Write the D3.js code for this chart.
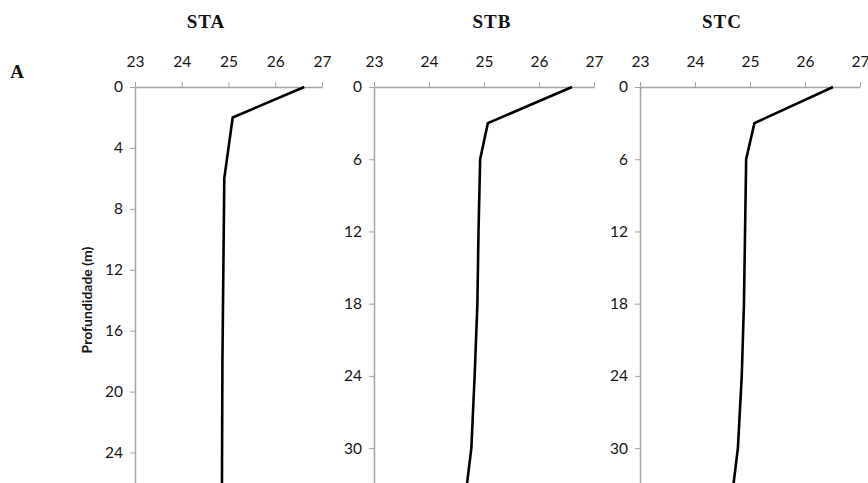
<!DOCTYPE html>
<html>
<head>
<meta charset="utf-8">
<script src="https://cdn.jsdelivr.net/npm/d3@7"></script>
<style>
  html, body { margin: 0; padding: 0; background: #fff; }
  svg { display: block; }
  .tick text { font-family: Lato, "Open Sans", sans-serif; font-size: 15.5px; fill: #151515; }
</style>
</head>
<body>
<svg id="chart" width="868" height="483"></svg>
<script>
// Temperature axis ticks (°C), shared by all stations
const tempTicks = [23, 24, 25, 26, 27];

// Station names
const stations = ["STA", "STB", "STC"];

// Depth ticks (m) per station
const staDepthTicks = [0, 4, 8, 12, 16, 20, 24];
const stbDepthTicks = [0, 6, 12, 18, 24, 30];
const stcDepthTicks = [0, 6, 12, 18, 24, 30];

// Temperature profiles: depth (m) and temperature (°C)
const staDepth = [0, 2, 6, 12, 18, 26];
const staTemp  = [26.62, 25.09, 24.91, 24.89, 24.87, 24.86];

const stbDepth = [0, 3, 6, 12, 18, 24, 30, 33];
const stbTemp  = [26.60, 25.07, 24.93, 24.90, 24.88, 24.83, 24.77, 24.69];

const stcDepth = [0, 3, 6, 12, 18, 24, 30, 33];
const stcTemp  = [26.51, 25.08, 24.93, 24.91, 24.89, 24.85, 24.78, 24.70];

const panels = [
  { name: stations[0], depth: staDepth, temp: staTemp, ticks: staDepthTicks, x0: 135, x1: 322, dMax: 26, titleX: 206 },
  { name: stations[1], depth: stbDepth, temp: stbTemp, ticks: stbDepthTicks, x0: 374, x1: 594, dMax: 32.9, titleX: 492 },
  { name: stations[2], depth: stcDepth, temp: stcTemp, ticks: stcDepthTicks, x0: 640, x1: 860, dMax: 32.9, titleX: 722 }
];

const svg = d3.select("#chart");
const plotTop = 87, plotBottom = 483;
const axisColor = "#a3a3a3";

panels.forEach((p) => {
  const x = d3.scaleLinear().domain([23, 27]).range([p.x0, p.x1]);
  const y = d3.scaleLinear().domain([0, p.dMax]).range([plotTop, plotBottom]);

  const g = svg.append("g");

  // Station title
  g.append("text")
    .attr("x", p.titleX).attr("y", 28)
    .attr("text-anchor", "middle")
    .attr("font-family", "'Liberation Serif', 'Times New Roman', serif")
    .attr("font-weight", "bold")
    .attr("font-size", 19)
    .attr("letter-spacing", 1)
    .attr("fill", "#111")
    .text(p.name);

  // Temperature axis on top
  const xa = g.append("g")
    .attr("transform", `translate(0,${plotTop})`)
    .call(d3.axisTop(x).tickValues(tempTicks).tickSizeInner(5).tickSizeOuter(0).tickPadding(15).tickFormat(d3.format("d")));
  xa.select(".domain").attr("stroke", axisColor).attr("stroke-width", 1.5);
  xa.selectAll(".tick line").attr("stroke", axisColor);

  // Depth axis on the left
  const ya = g.append("g")
    .attr("transform", `translate(${p.x0},0)`)
    .call(d3.axisLeft(y).tickValues(p.ticks).tickSizeInner(5).tickSizeOuter(0).tickPadding(7).tickFormat(d3.format("d")));
  ya.select(".domain").attr("stroke", axisColor).attr("stroke-width", 1.5);
  ya.selectAll(".tick line").attr("stroke", axisColor);

  // Profile line
  const pts = p.depth.map((d, k) => [p.temp[k], d]);
  g.append("path")
    .datum(pts)
    .attr("fill", "none")
    .attr("stroke", "#000")
    .attr("stroke-width", 2.6)
    .attr("stroke-linejoin", "miter")
    .attr("d", d3.line().x(d => x(d[0])).y(d => y(d[1])));
});

// Panel letter
svg.append("text")
  .attr("x", 17).attr("y", 78)
  .attr("text-anchor", "middle")
  .attr("font-family", "'Liberation Serif', 'Times New Roman', serif")
  .attr("font-weight", "bold")
  .attr("font-size", 19)
  .attr("fill", "#111")
  .text("A");

// Depth axis title
svg.append("text")
  .attr("transform", "translate(92,300) rotate(-90)")
  .attr("text-anchor", "middle")
  .attr("font-family", "Lato, 'Open Sans', sans-serif")
  .attr("font-weight", "bold")
  .attr("font-size", 14)
  .attr("fill", "#151515")
  .text("Profundidade (m)");
</script>
</body>
</html>
